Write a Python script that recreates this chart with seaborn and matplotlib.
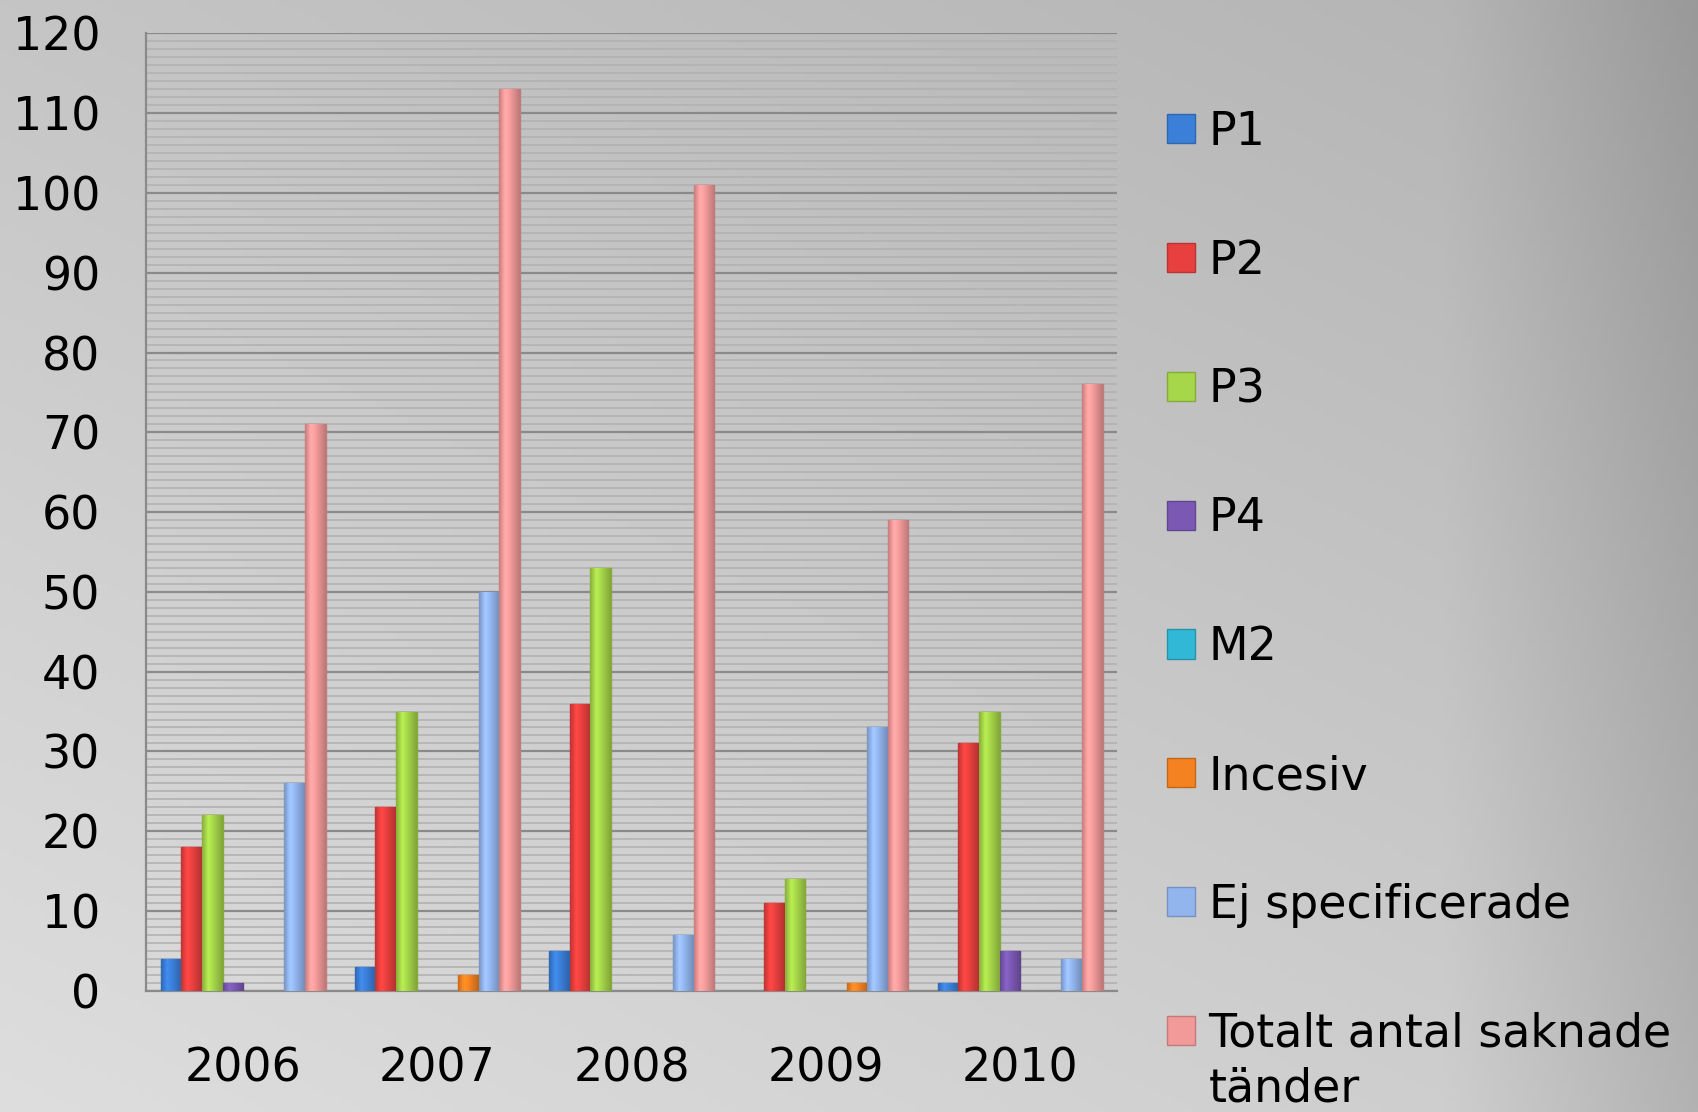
import numpy as np
import pandas as pd
import matplotlib
matplotlib.use("Agg")
import matplotlib.pyplot as plt
from matplotlib.patches import Patch
import seaborn as sns
from matplotlib.ticker import MultipleLocator

years = ["2006", "2007", "2008", "2009", "2010"]
series = ["P1", "P2", "P3", "P4", "M2", "Incesiv", "Ej specificerade",
          "Totalt antal saknade"]
p1 = [4, 3, 5, 0, 1]
p2 = [18, 23, 36, 11, 31]
p3 = [22, 35, 53, 14, 35]
p4 = [1, 0, 0, 0, 5]
m2 = [0, 0, 0, 0, 0]
incesiv = [0, 2, 0, 1, 0]
ej_spec = [26, 50, 7, 33, 4]
totalt = [71, 113, 101, 59, 76]
colors = ["#3b7fd8", "#e8403f", "#a6d64a", "#7b58b4", "#31b8d6",
          "#f48220", "#93b5ee", "#f29a9a"]

values = [p1, p2, p3, p4, m2, incesiv, ej_spec, totalt]
rows = []
for s, vals in zip(series, values):
    for y, v in zip(years, vals):
        rows.append({"year": y, "series": s, "value": v})
df = pd.DataFrame(rows)

sns.set_style("white")
plt.rcParams["font.family"] = ["DejaVu Sans"]
plt.rcParams["text.color"] = "black"
plt.rcParams["xtick.color"] = "black"
plt.rcParams["ytick.color"] = "black"

fig = plt.figure(figsize=(16.98, 11.12), dpi=100)

# background gradient (light bottom-left, darker top-right)
bg = fig.add_axes([0, 0, 1, 1], zorder=-10)
xx, yy = np.meshgrid(np.linspace(0, 1, 300), np.linspace(0, 1, 200))
grad = 0.87 - 0.13 * (0.55 * xx + 0.75 * (1 - yy))
grad = grad - 0.10 * np.clip(xx - 0.85, 0, None) / 0.15
bg.imshow(np.dstack([grad] * 3), aspect="auto", extent=[0, 1, 0, 1], origin="upper")
bg.axis("off")

ax = fig.add_axes([0.086, 0.109, 0.572, 0.861])
ax.set_facecolor("none")

sns.barplot(data=df, x="year", y="value", hue="series", palette=colors,
            width=0.85, saturation=1, ax=ax, zorder=3, legend=False)

# shaded bars: horizontal gradient clipped to each bar
t = np.linspace(0, 1, 40)
shade = np.interp(t, [0, 0.3, 0.55, 1], [0.82, 1.12, 1.0, 0.78])
for bar in list(ax.patches):
    h = bar.get_height()
    if not h or np.isnan(h):
        bar.set_visible(False)
        continue
    fc = np.array(bar.get_facecolor()[:3])
    img = np.clip(fc[None, None, :] * shade[None, :, None], 0, 1)
    x0, w = bar.get_x(), bar.get_width()
    im = ax.imshow(img, aspect="auto", extent=[x0, x0 + w, 0, h],
                   origin="upper", zorder=4, interpolation="bilinear")
    im.set_clip_path(bar)
    bar.set_edgecolor(tuple(fc * 0.8))
    bar.set_linewidth(1.0)
ax.set_xlim(-0.5, 4.5)
ax.set_ylim(0, 120)

ax.yaxis.set_major_locator(MultipleLocator(10))
ax.yaxis.set_minor_locator(MultipleLocator(1))
ax.grid(which="major", axis="y", color="#8a8a8a", linewidth=1.6, zorder=1)
ax.grid(which="minor", axis="y", color="#b2b2b2", linewidth=1.2, zorder=1)
ax.set_axisbelow(True)

ax.set_xticks(range(len(years)))
ax.set_xticklabels(years)
ax.set_xticks(np.arange(-0.5, 5, 1), minor=True)
ax.tick_params(axis="x", which="major", length=0, pad=40, labelsize=33)
ax.tick_params(axis="x", which="minor", length=14, width=1.5, color="#8a8a8a",
               direction="out")
ax.tick_params(axis="y", which="major", length=0, pad=33, labelsize=33)
ax.tick_params(axis="y", which="minor", length=8, width=1.2, color="#8a8a8a",
               direction="in")
ax.set_xlabel("")
ax.set_ylabel("")

for side in ["top", "right"]:
    ax.spines[side].set_visible(False)
for side in ["left", "bottom"]:
    ax.spines[side].set_color("#8a8a8a")
    ax.spines[side].set_linewidth(1.6)

handles = [Patch(facecolor=c, edgecolor=tuple(np.array(matplotlib.colors.to_rgb(c)) * 0.8))
           for c in colors]
leg = fig.legend(handles, series, loc="upper left", bbox_to_anchor=(0.674, 0.922),
                 frameon=False, fontsize=33, handlelength=0.6, handleheight=0.6,
                 handletextpad=0.3, labelspacing=1.83, borderpad=0)

# second line of the last legend label, placed under its first line
fig.canvas.draw()
last = leg.get_texts()[-1]
bb = last.get_window_extent().transformed(fig.transFigure.inverted())
fig.text(bb.x0, bb.y0 - 0.009, "tänder", fontsize=33, ha="left", va="top")

fig.savefig("out.png", dpi=100)
